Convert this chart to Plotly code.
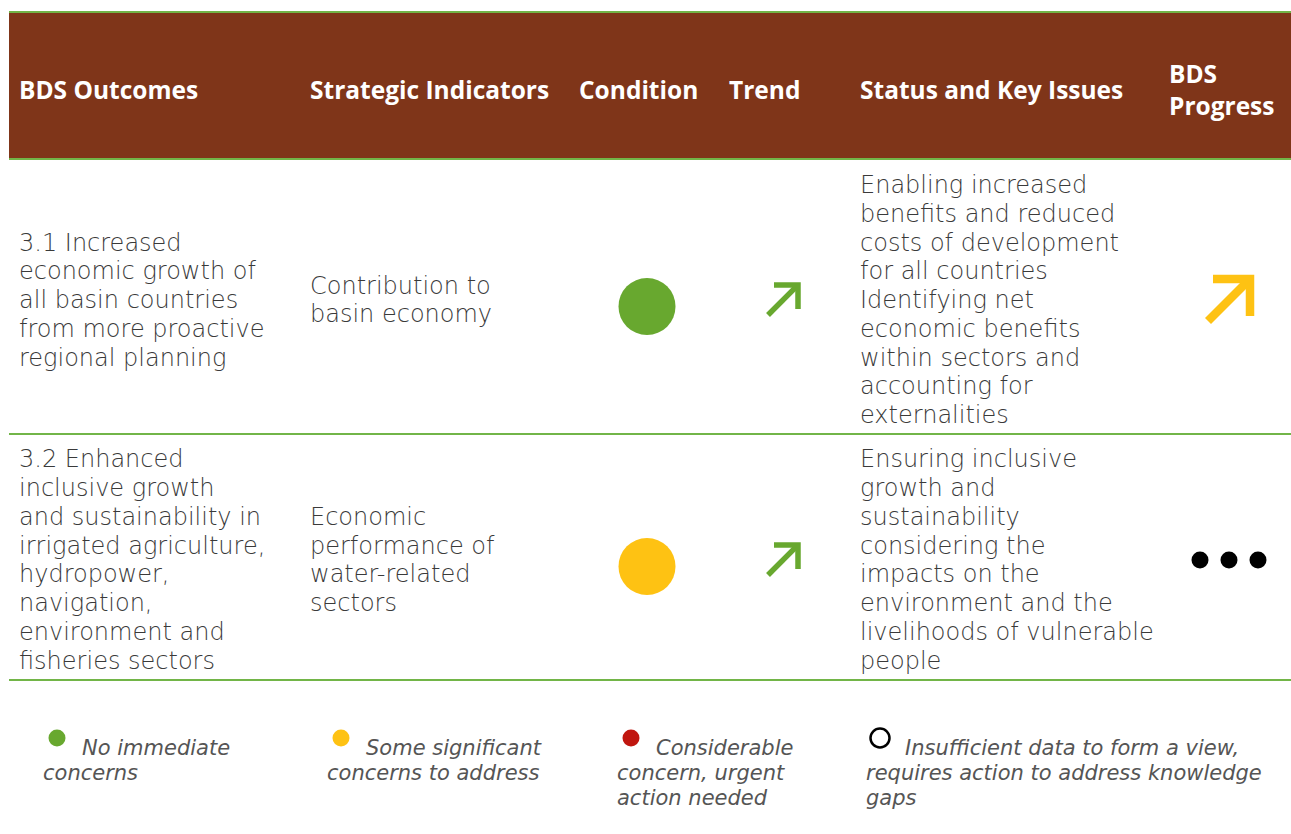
import plotly.graph_objects as go

# ---------------- data ----------------
columns = ["BDS Outcomes", "Strategic Indicators", "Condition", "Trend",
           "Status and Key Issues", "BDS<br>Progress"]
outcomes = [
    ["3.1 Increased", "economic growth of", "all basin countries", "from more proactive",
     "regional planning"],
    ["3.2 Enhanced", "inclusive growth", "and sustainability in", "irrigated agriculture,",
     "hydropower,", "navigation,", "environment and", "fisheries sectors"],
]
indicators = [
    ["Contribution to", "basin economy"],
    ["Economic", "performance of", "water-related", "sectors"],
]
conditions = ["green", "yellow"]
trends = ["improving", "improving"]
status = [
    ["Enabling increased", "benefits and reduced", "costs of development", "for all countries",
     "Identifying net", "economic benefits", "within sectors and", "accounting for",
     "externalities"],
    ["Ensuring inclusive", "growth and", "sustainability", "considering the", "impacts on the",
     "environment and the", "livelihoods of vulnerable", "people"],
]
progress = ["improving", "pending"]

legend_keys = ["green", "yellow", "red", "none"]
legend_first = ["No immediate", "Some significant", "Considerable",
                "Insufficient data to form a view,"]
legend_rest = [["concerns"], ["concerns to address"], ["concern, urgent", "action needed"],
               ["requires action to address knowledge", "gaps"]]

# ---------------- styles ----------------
W, H = 1291, 834
BROWN = "#7f3519"
LINE_GREEN = "#72b548"
COLORS = {"green": "#68a82f", "yellow": "#fec213", "red": "#c0160f", "none": "#ffffff"}
TEXT = "#3a3a3a"
BODY_FONT = "DejaVu Sans"
HEAD_FONT = "Open Sans"
PAD = 3  # annotation inner padding

col_left = [20, 311, 580, 730, 861, 1170]
col_center = [None, None, 647, 783, None, 1229]
header_top, header_bottom = 12, 159
row_bounds = [(159, 434), (434, 680)]
row_centers = [300, 560]
header_center = 89
body_pitch = 28.75
legend_pitch = 25

fig = go.Figure()
shapes = []
annotations = []


def add_lines(x, yc, lines, pitch, font):
    n = len(lines)
    for i, ln in enumerate(lines):
        annotations.append(dict(x=x - PAD, y=yc + (i - (n - 1) / 2) * pitch, text=ln,
                                xanchor="left", yanchor="middle", align="left",
                                showarrow=False, font=font))


# header band
shapes.append(dict(type="rect", x0=9, x1=W, y0=header_top, y1=header_bottom,
                   fillcolor=BROWN, line=dict(width=0), layer="below"))
for yline in [header_top, header_bottom] + [b for _, b in row_bounds]:
    shapes.append(dict(type="line", x0=9, x1=W, y0=yline, y1=yline,
                       line=dict(color=LINE_GREEN, width=2)))

head_font = dict(family=HEAD_FONT, size=24.5, color="white", weight=700)
for i, c in enumerate(columns):
    annotations.append(dict(x=col_left[i] - PAD, y=header_center, text=c,
                            xanchor="left", yanchor="middle", align="left",
                            showarrow=False, font=head_font))

# body text
body_font = dict(family=BODY_FONT, size=24, color=TEXT, weight=300)
for r in range(len(outcomes)):
    add_lines(col_left[0], row_centers[r], outcomes[r], body_pitch, body_font)
    add_lines(col_left[1], row_centers[r], indicators[r], body_pitch, body_font)
    add_lines(col_left[4], row_centers[r], status[r], body_pitch, body_font)

# condition circles
fig.add_trace(go.Scatter(
    x=[col_center[2]] * len(conditions), y=[yc + 6.5 for yc in row_centers], mode="markers",
    marker=dict(size=57, color=[COLORS[c] for c in conditions], line=dict(width=0)),
    hoverinfo="skip", showlegend=False))


def arrow(cx, cy, half, head, width, color):
    tipx, tipy = cx + half, cy - half
    shapes.append(dict(type="path",
                       path=f"M {cx-half} {cy+half} L {tipx-width*0.35} {tipy+width*0.35}",
                       line=dict(color=color, width=width)))
    shapes.append(dict(type="path",
                       path=f"M {tipx-head} {tipy} L {tipx} {tipy} L {tipx} {tipy+head}",
                       line=dict(color=color, width=width)))


for r, t in enumerate(trends):
    if t == "improving":
        arrow(col_center[3], row_centers[r], 15, 24, 5.5, COLORS["green"])

for r, p in enumerate(progress):
    if p == "improving":
        arrow(col_center[5], row_centers[r], 21, 37, 8.5, COLORS["yellow"])
    elif p == "pending":
        fig.add_trace(go.Scatter(
            x=[col_center[5] - 29, col_center[5], col_center[5] + 29],
            y=[row_centers[r]] * 3,
            mode="markers", marker=dict(size=17, color="black"),
            hoverinfo="skip", showlegend=False))

# legend
leg_dot_x = [57, 341, 631, 880]
leg_text_x = [44, 328, 618, 867]
leg_y = 738
leg_font = dict(family=BODY_FONT, size=21, color="#555", style="italic", weight=300)
for k, key in enumerate(legend_keys):
    if key == "none":
        mk = dict(size=19, color="white", line=dict(color="black", width=2.5))
    else:
        mk = dict(size=17, color=COLORS[key], line=dict(width=0))
    fig.add_trace(go.Scatter(x=[leg_dot_x[k]], y=[leg_y], mode="markers", marker=mk,
                             hoverinfo="skip", showlegend=False))
    add_lines(leg_dot_x[k] + 26, 748, [legend_first[k]], legend_pitch, leg_font)
    rest = legend_rest[k]
    add_lines(leg_text_x[k], 773 + (len(rest) - 1) * legend_pitch / 2, rest, legend_pitch,
              leg_font)

fig.update_layout(
    width=W, height=H, margin=dict(l=0, r=0, t=0, b=0),
    paper_bgcolor="white", plot_bgcolor="white",
    xaxis=dict(range=[0, W], visible=False, fixedrange=True),
    yaxis=dict(range=[H, 0], visible=False, fixedrange=True),
    shapes=shapes, annotations=annotations,
)

fig.write_html("out.html", config={"displayModeBar": False},
               post_script="document.body.style.margin='0';")
